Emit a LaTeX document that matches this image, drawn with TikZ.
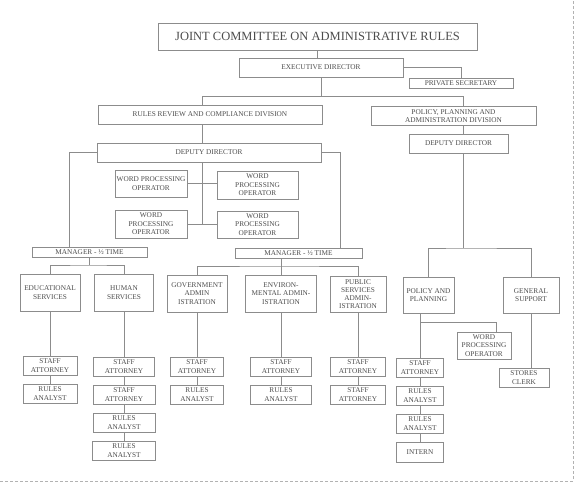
\documentclass[tikz,border=0pt]{standalone}
\usepackage{fontspec}
\setmainfont{Liberation Serif}
\usepackage{tikz}

\begin{document}
\begin{tikzpicture}[x=1pt,y=-1pt]
						\tikzstyle{box}=[draw=black!45,inner sep=0pt,align=center,text=black!70,font=\fontsize{7.3}{8.6}\selectfont]
						\tikzstyle{conn}=[draw=black!45]
						\tikzstyle{frame}=[draw=black!30,dash pattern=on 3pt off 2pt]
						\useasboundingbox (0,0) rectangle (575,482);
						% top of the chart
						\node[box,minimum width=319pt,minimum height=27pt,font=\fontsize{12.5}{14}\selectfont] (1) at (317.5,36.5) {JOINT COMMITTEE ON ADMINISTRATIVE RULES};
						\node[box,minimum width=164pt,minimum height=19pt] (2) at (321,67.5) {EXECUTIVE DIRECTOR};
						\node[box,minimum width=104pt,minimum height=10pt] (3) at (461,83) {PRIVATE SECRETARY};
						\node[box,minimum width=224pt,minimum height=19pt] (4) at (210,114.5) {RULES REVIEW AND COMPLIANCE DIVISION};
						\node[box,minimum width=165pt,minimum height=19pt] (5) at (453.5,116) {POLICY, PLANNING AND\\ADMINISTRATION DIVISION};
						\node[box,minimum width=224pt,minimum height=19pt] (6) at (209,152.5) {DEPUTY DIRECTOR};
						\node[box,minimum width=99pt,minimum height=19pt] (7) at (458.5,143.5) {DEPUTY DIRECTOR};
						% word processing
						\node[box,minimum width=72pt,minimum height=27pt] (8) at (151,183.5) {WORD PROCESSING\\OPERATOR};
						\node[box,minimum width=81pt,minimum height=28pt] (9) at (257.5,185) {WORD\\PROCESSING\\OPERATOR};
						\node[box,minimum width=72pt,minimum height=28pt] (10) at (151,224) {WORD\\PROCESSING\\OPERATOR};
						\node[box,minimum width=81pt,minimum height=27pt] (11) at (257.5,224.5) {WORD\\PROCESSING\\OPERATOR};
						\node[box,minimum width=115pt,minimum height=10pt] (12) at (89.5,252) {MANAGER - ½ TIME};
						\node[box,minimum width=127pt,minimum height=10pt] (13) at (298.5,253) {MANAGER - ½ TIME};
						% sections
						\node[box,minimum width=60pt,minimum height=37pt] (14) at (50,292.5) {EDUCATIONAL\\SERVICES};
						\node[box,minimum width=59pt,minimum height=37pt] (15) at (124,292.5) {HUMAN\\SERVICES};
						\node[box,minimum width=60pt,minimum height=37pt] (16) at (197,293.5) {GOVERNMENT\\ADMIN\\ISTRATION};
						\node[box,minimum width=71pt,minimum height=37pt] (17) at (281,293.5) {ENVIRON-\\MENTAL ADMIN-\\ISTRATION};
						\node[box,minimum width=56pt,minimum height=36pt,font=\fontsize{7.3}{8.2}\selectfont] (18) at (358,294) {PUBLIC\\SERVICES\\ADMIN-\\ISTRATION};
						\node[box,minimum width=51pt,minimum height=36pt] (19) at (428.5,295) {POLICY AND\\PLANNING};
						\node[box,minimum width=56pt,minimum height=36pt] (20) at (531,295) {GENERAL\\SUPPORT};
						% staff
						\node[box,minimum width=54pt,minimum height=19pt] (21) at (50,365.5) {STAFF\\ATTORNEY};
						\node[box,minimum width=54pt,minimum height=19pt] (22) at (50,393.5) {RULES\\ANALYST};
						\node[box,minimum width=61pt,minimum height=19pt] (23) at (124,366.5) {STAFF\\ATTORNEY};
						\node[box,minimum width=62pt,minimum height=19pt] (24) at (124,394.5) {STAFF\\ATTORNEY};
						\node[box,minimum width=62pt,minimum height=19pt] (25) at (124,422.5) {RULES\\ANALYST};
						\node[box,minimum width=63pt,minimum height=19pt] (26) at (124,450.5) {RULES\\ANALYST};
						\node[box,minimum width=53pt,minimum height=19pt] (27) at (197,366.5) {STAFF\\ATTORNEY};
						\node[box,minimum width=53pt,minimum height=19pt] (28) at (197,394.5) {RULES\\ANALYST};
						\node[box,minimum width=61pt,minimum height=19pt] (29) at (281,366.5) {STAFF\\ATTORNEY};
						\node[box,minimum width=61pt,minimum height=19pt] (30) at (281,394.5) {RULES\\ANALYST};
						\node[box,minimum width=55pt,minimum height=19pt] (31) at (358,366.5) {STAFF\\ATTORNEY};
						\node[box,minimum width=55pt,minimum height=19pt] (32) at (358,394.5) {STAFF\\ATTORNEY};
						\node[box,minimum width=54pt,minimum height=27pt] (33) at (484,345.5) {WORD\\PROCESSING\\OPERATOR};
						\node[box,minimum width=47pt,minimum height=19pt] (34) at (420,367.5) {STAFF\\ATTORNEY};
						\node[box,minimum width=47pt,minimum height=19pt] (35) at (420,395.5) {RULES\\ANALYST};
						\node[box,minimum width=47pt,minimum height=19pt] (36) at (420,423.5) {RULES\\ANALYST};
						\node[box,minimum width=47pt,minimum height=20pt] (37) at (420,452) {INTERN};
						\node[box,minimum width=50pt,minimum height=19pt] (38) at (524,377.5) {STORES\\CLERK};
						% lines
						\coordinate (b1) at (202,96);
						\coordinate (b2) at (463,96);
						\coordinate (m1) at (69,0);
						\coordinate (m2) at (340,0);
						\coordinate (e1) at (0,265);
						\coordinate (g1) at (0,266);
						\coordinate (q1) at (0,248);
						\coordinate (p1) at (496,322);
						\draw[conn] (1.south) -- (1.south |- 2.north);
						\draw[conn] (2.east) -| (3.north);
						\draw[conn] (2.south) -- (2.south |- b1);
						\draw[conn] (b1 |- 4.north) -- (b1) -- (b2) -- (b2 |- 5.north);
						\draw[conn] (b1 |- 4.south) -- (b1 |- 6.north);
						\draw[conn] (b2 |- 5.south) -- (b2 |- 7.north);
						\draw[conn] (b1 |- 6.south) -- (b1 |- 10.east);
						\draw[conn] (8.east) -- (9.west |- 8.east);
						\draw[conn] (10.east) -- (11.west |- 10.east);
						\draw[conn] (6.west) -| (m1 |- 12.north);
						\draw[conn] (6.east) -| (m2 |- 13.north);
						\draw[conn] (12.south) -- (12.south |- e1);
						\draw[conn] (14.north) |- (12.south |- e1) -| (15.north);
						\draw[conn] (17.north |- 13.south) -- (17.north);
						\draw[conn] (16.north) |- (17.north |- g1) -| (18.north);
						\draw[conn] (b2 |- 7.south) -- (b2 |- q1);
						\draw[conn] (19.north) |- (b2 |- q1) -| (20.north);
						\draw[conn] (14) -- (21);
						\draw[conn] (21) -- (22);
						\draw[conn] (15) -- (23);
						\draw[conn] (23) -- (24);
						\draw[conn] (24) -- (25);
						\draw[conn] (25) -- (26);
						\draw[conn] (16) -- (27);
						\draw[conn] (27) -- (28);
						\draw[conn] (17) -- (29);
						\draw[conn] (29) -- (30);
						\draw[conn] (18) -- (31);
						\draw[conn] (31) -- (32);
						\draw[conn] (34.north |- 19.south) -- (34.north);
						\draw[conn] (34.north |- p1) -- (p1) -- (p1 |- 33.north);
						\draw[conn] (34) -- (35);
						\draw[conn] (35) -- (36);
						\draw[conn] (36) -- (37);
						\draw[conn] (20.south) -- (20.south |- 38.north);
						% page edge
						\draw[frame] (0,481) -- (573,481) -- (573,0);
						\end{tikzpicture}
\end{document}
